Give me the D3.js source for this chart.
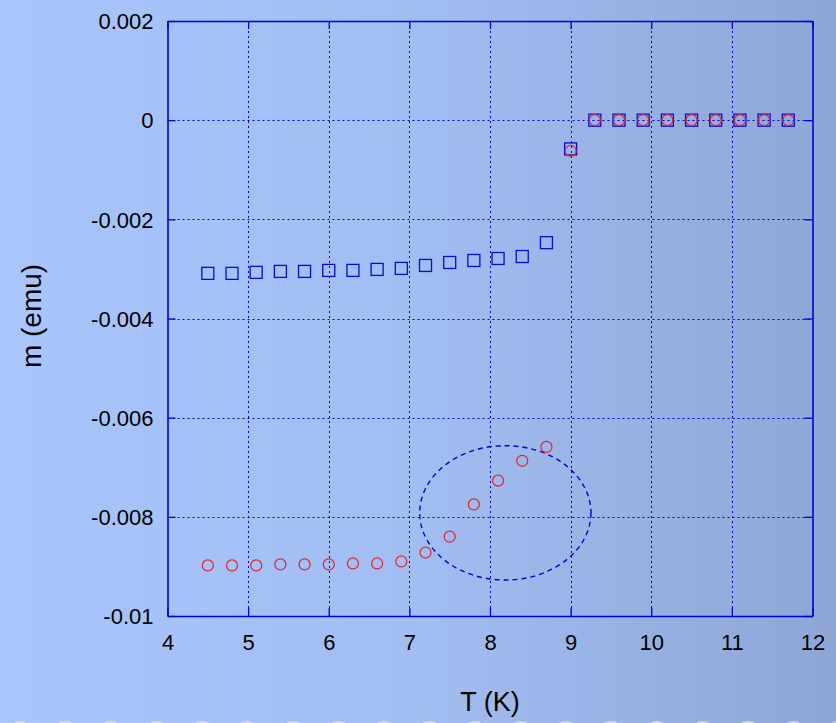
<!DOCTYPE html>
<html><head><meta charset="utf-8">
<script src="https://cdn.jsdelivr.net/npm/d3@7"></script>
<style>body{margin:0;padding:0;overflow:hidden}svg{display:block}</style>
</head><body>
<script>
const temps = [4.5,4.8,5.1,5.4,5.7,6.0,6.3,6.6,6.9,7.2,7.5,7.8,8.1,8.4,8.7,9.0,9.3,9.6,9.9,10.2,10.5,10.8,11.1,11.4,11.7];
const squareM = [-0.00309,-0.00309,-0.00307,-0.00305,-0.00305,-0.00303,-0.00303,-0.00301,-0.00299,-0.00293,-0.00287,-0.00283,-0.00279,-0.00275,-0.00247,-0.00058,0,0,0,0,0,0,0,0,0];
const circleM = [-0.00898,-0.00898,-0.00898,-0.00896,-0.00896,-0.00896,-0.00894,-0.00894,-0.00890,-0.00872,-0.00840,-0.00775,-0.00727,-0.00687,-0.00659,-0.00062,0,0,0,0,0,0,0,0,0];
const xTicks = [4,5,6,7,8,9,10,11,12];
const yTicks = [0.002,0,-0.002,-0.004,-0.006,-0.008,-0.01];
const yTickLabels = ["0.002","0","-0.002","-0.004","-0.006","-0.008","-0.01"];
const ellipseCenter = [8.19,-0.00792];
const ellipseRadii = [1.062,0.001355];

const W=836,H=723;
const L=167.5,R=812.5,T=21,B=616;
const svg=d3.select("body").append("svg").attr("width",W).attr("height",H);
const defs=svg.append("defs");
const g=defs.append("linearGradient").attr("id","bg").attr("x1","0").attr("x2","1").attr("y1","0").attr("y2","0");
g.append("stop").attr("offset","0").attr("stop-color","#a8c5fc");
g.append("stop").attr("offset","0.5").attr("stop-color","#a2bdf2");
g.append("stop").attr("offset","1").attr("stop-color","#8ea6d5");
svg.append("rect").attr("width",W).attr("height",H).attr("fill","url(#bg)");
// bottom decorative circles
const deco=d3.range(0,19).map(i=>20+i*45.5);
svg.append("g").selectAll("circle").data(deco).join("circle")
  .attr("cx",d=>d).attr("cy",734).attr("r",13).attr("fill","#d2e2f8").attr("opacity",0.8);

const x=d3.scaleLinear().domain([4,12]).range([L,R]);
const y=d3.scaleLinear().domain([-0.01,0.002]).range([B,T]);
const blue="#0000d8";
// grid
const grid=svg.append("g").attr("stroke",blue).attr("stroke-width",1).attr("stroke-dasharray","2,3");
grid.selectAll("line.v").data(xTicks.slice(1,-1)).join("line").attr("class","v")
  .attr("x1",d=>Math.round(x(d))+0.5).attr("x2",d=>Math.round(x(d))+0.5).attr("y1",T).attr("y2",B);
grid.selectAll("line.h").data(yTicks.slice(1,-1)).join("line").attr("class","h")
  .attr("y1",d=>Math.round(y(d))+0.5).attr("y2",d=>Math.round(y(d))+0.5).attr("x1",L).attr("x2",R);

// axes with inward ticks
const fontF="'Liberation Sans', Arial, sans-serif";
const ax=svg.append("g").attr("transform",`translate(0,${B})`).call(d3.axisBottom(x).tickValues(xTicks).tickSize(-8).tickPadding(18).tickSizeOuter(0));
const axT=svg.append("g").attr("transform",`translate(0,${T})`).call(d3.axisTop(x).tickValues(xTicks).tickSize(-8).tickFormat("").tickSizeOuter(0));
const ay=svg.append("g").attr("transform",`translate(${L},0)`).call(d3.axisLeft(y).tickValues(yTicks).tickFormat((d,i)=>yTickLabels[i]).tickSize(-8).tickPadding(14).tickSizeOuter(0));
const ayR=svg.append("g").attr("transform",`translate(${R},0)`).call(d3.axisRight(y).tickValues(yTicks).tickSize(-8).tickFormat("").tickSizeOuter(0));
[ax,axT,ay,ayR].forEach(a=>{
  a.select(".domain").attr("stroke",blue).attr("stroke-width",1.6);
  a.selectAll(".tick line").attr("stroke",blue).attr("stroke-width",1.3);
  a.selectAll("text").attr("fill","#000").style("font-family",fontF).style("font-size","22px");
});
ay.selectAll("text").attr("dy","0.35em");

// ellipse
svg.append("ellipse").attr("cx",x(ellipseCenter[0])).attr("cy",y(ellipseCenter[1]))
  .attr("rx",x(ellipseCenter[0]+ellipseRadii[0])-x(ellipseCenter[0]))
  .attr("ry",y(ellipseCenter[1])-y(ellipseCenter[1]+ellipseRadii[1]))
  .attr("fill","none").attr("stroke",blue).attr("stroke-width",1.4).attr("stroke-dasharray","5,4");

// squares
const sq=12;
svg.append("g").selectAll("rect").data(temps.map((t,i)=>[t,squareM[i]])).join("rect")
  .attr("x",d=>x(d[0])-sq/2).attr("y",d=>y(d[1])-sq/2).attr("width",sq).attr("height",sq)
  .attr("fill","none").attr("stroke","#0a0ad0").attr("stroke-width",1.3);
// circles
svg.append("g").selectAll("circle").data(temps.map((t,i)=>[t,circleM[i]])).join("circle")
  .attr("cx",d=>x(d[0])).attr("cy",d=>y(d[1])).attr("r",5.5)
  .attr("fill","none").attr("stroke","#e0262a").attr("stroke-width",1.2);

// titles
svg.append("text").attr("x",490).attr("y",711).attr("text-anchor","middle")
  .style("font-family",fontF).style("font-size","27px").text("T (K)");
svg.append("text").attr("transform","translate(41,316) rotate(-90)").attr("text-anchor","middle")
  .style("font-family",fontF).style("font-size","28px").text("m (emu)");
</script>
</body></html>
